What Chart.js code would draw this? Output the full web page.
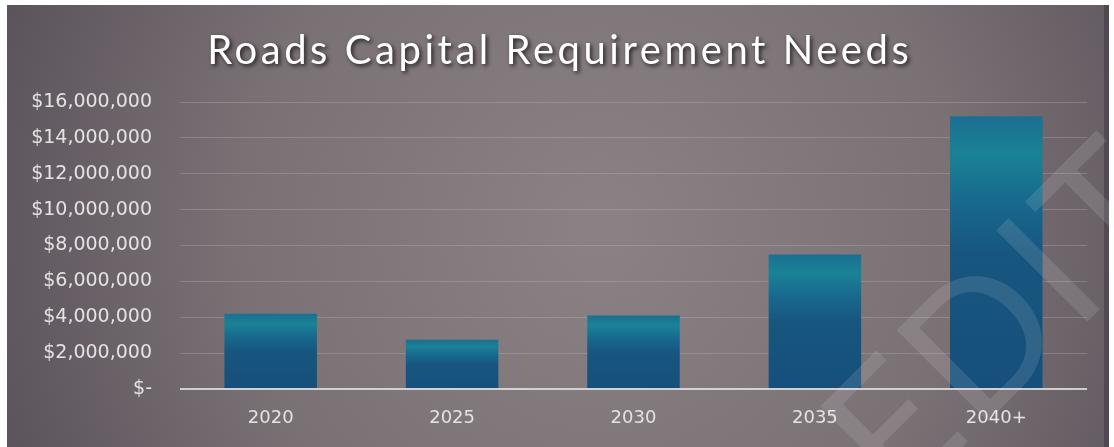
<!DOCTYPE html>
<html>
<head>
<meta charset="utf-8">
<script src="https://cdn.jsdelivr.net/npm/chart.js@4"></script>
<style>
html,body{margin:0;padding:0;background:#fff;}
#wrap{width:1114px;height:447px;position:relative;}
</style>
</head>
<body>
<div id="wrap"><canvas id="c" width="1114" height="447"></canvas></div>
<script>
const categories = ["2020", "2025", "2030", "2035", "2040+"];
const requirementNeeds = [4200000, 2750000, 4100000, 7500000, 15200000];
const yTickValues = [0, 2000000, 4000000, 6000000, 8000000, 10000000, 12000000, 14000000, 16000000];
const chartTitle = "Roads Capital Requirement Needs";
const watermarkText = "EDIT";

function fmtMoney(v){
  if (v === 0) return "$-";
  return "$" + v.toLocaleString("en-US");
}

const bgPlugin = {
  id: 'bg',
  beforeDraw(chart){
    const ctx = chart.ctx;
    ctx.save();
    ctx.fillStyle = '#ffffff';
    ctx.fillRect(0,0,chart.width,chart.height);
    const g = ctx.createRadialGradient(600, 230, 20, 600, 230, 640);
    g.addColorStop(0, '#8a8184');
    g.addColorStop(0.55, '#7a7175');
    g.addColorStop(1, '#5a535a');
    ctx.fillStyle = g;
    ctx.fillRect(7, 5, 1102, 442);
    ctx.fillStyle = 'rgba(40,36,42,0.35)';
    ctx.fillRect(1104, 5, 5, 442);
    ctx.restore();
  },
  afterDatasetsDraw(chart){
    const ctx = chart.ctx;
    // watermark
    ctx.save();
    ctx.translate(1005, 322);
    ctx.rotate(-Math.PI/4);
    ctx.font = '400 180px Lato';
    ctx.textAlign = 'center';
    ctx.textBaseline = 'middle';
    ctx.letterSpacing = '4px';
    ctx.fillStyle = 'rgba(235,235,235,0.12)';
    ctx.fillText(watermarkText, 0, 0);
    ctx.restore();
    // title
    ctx.save();
    ctx.font = '40px Lato';
    const w0 = ctx.measureText(chartTitle).width;
    const sp = Math.max(0, (705 - w0) / chartTitle.length);
    ctx.letterSpacing = sp.toFixed(2) + 'px';
    ctx.textAlign = 'center';
    ctx.textBaseline = 'alphabetic';
    ctx.shadowColor = 'rgba(0,0,0,0.75)';
    ctx.shadowBlur = 4;
    ctx.shadowOffsetX = 2;
    ctx.shadowOffsetY = 2;
    ctx.fillStyle = '#ffffff';
    ctx.fillText(chartTitle, 558 + sp/2, 64);
    ctx.restore();
  }
};

function barGradient(context){
  const chart = context.chart;
  const area = chart.chartArea;
  if (!area) return '#17567f';
  const yScale = chart.scales.y;
  const top = yScale.getPixelForValue(context.raw);
  const base = yScale.getPixelForValue(0);
  const g = chart.ctx.createLinearGradient(0, top, 0, base);
  g.addColorStop(0, '#1b6f92');
  g.addColorStop(0.14, '#1a8296');
  g.addColorStop(0.3, '#186a8e');
  g.addColorStop(0.5, '#17567f');
  g.addColorStop(1, '#164f7b');
  return g;
}

new Chart(document.getElementById('c'), {
  type: 'bar',
  data: {
    labels: categories,
    datasets: [{
      data: requirementNeeds,
      backgroundColor: barGradient,
      borderWidth: 0,
      categoryPercentage: 1.0,
      barPercentage: 0.51
    }]
  },
  plugins: [bgPlugin],
  options: {
    responsive: false,
    animation: false,
    devicePixelRatio: 1,
    layout: { padding: { top: 102, right: 27, left: 0, bottom: 0 } },
    plugins: { legend: { display: false }, title: { display: false }, tooltip: { enabled: false } },
    scales: {
      x: {
        grid: { display: false, drawTicks: false },
        border: { display: false },
        ticks: { color: '#e4e2e4', font: { family: '"DejaVu Sans"', size: 18 }, padding: 19 },
        afterFit(s){ s.height = 58; }
      },
      y: {
        min: 0, max: 16000000,
        afterBuildTicks(s){ s.ticks = yTickValues.map(v => ({ value: v })); },
        grid: {
          drawTicks: false,
          color: (c) => c.tick && c.tick.value === 0 ? 'rgba(225,225,228,0.85)' : 'rgba(200,195,200,0.28)',
          lineWidth: (c) => c.tick && c.tick.value === 0 ? 2 : 1
        },
        border: { display: false },
        ticks: {
          color: '#e4e2e4',
          font: { family: '"DejaVu Sans"', size: 19 },
          padding: 28,
          callback: (v) => fmtMoney(v)
        },
        afterFit(s){ s.width = 180; }
      }
    }
  }
});
</script>
</body>
</html>
